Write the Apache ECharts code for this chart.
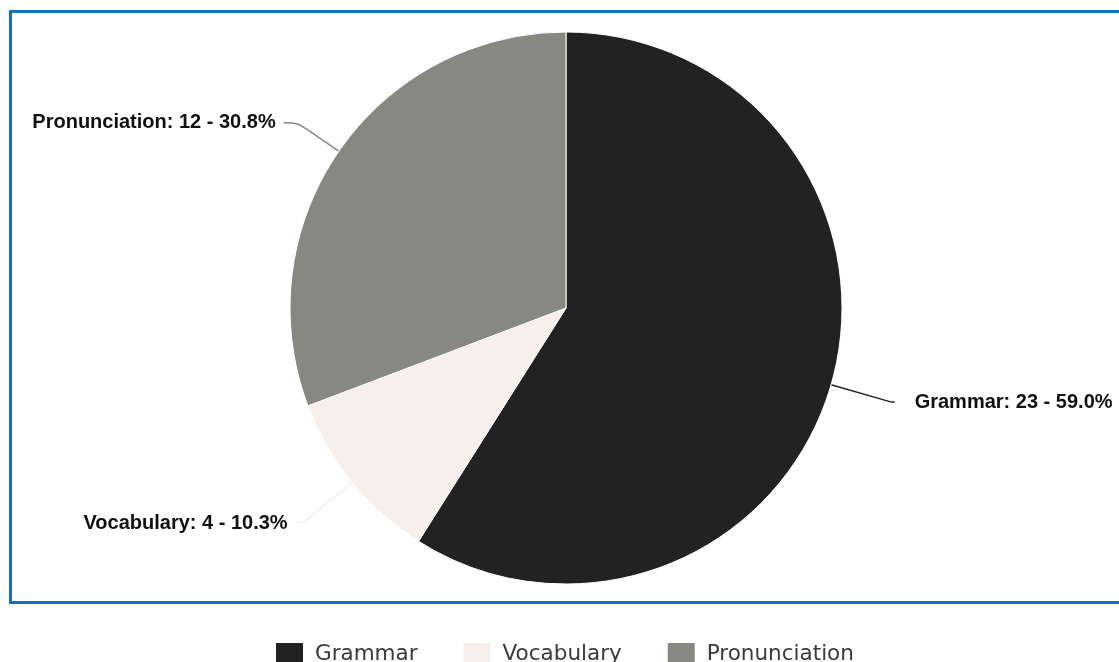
<!DOCTYPE html>
<html>
<head>
<meta charset="utf-8">
<script src="https://cdn.jsdelivr.net/npm/echarts@6/dist/echarts.min.js"></script>
<style>
  html, body { margin: 0; padding: 0; background: #ffffff; }
  #chart { width: 1119px; height: 662px; }
</style>
</head>
<body>
<div id="chart"></div>
<script>
// Skill areas and their counts
const categories = ['Grammar', 'Vocabulary', 'Pronunciation'];
const counts = [23, 4, 12];
const sliceColors = ['#222222', '#f6efec', '#878882'];
// Label line lengths per slice: [radial part, horizontal part]
const lineLengths = [[62, 4], [64, 7], [50, 14]];
const labelGaps = [20, 8, 8];

const total = counts.reduce((a, b) => a + b, 0);

const chart = echarts.init(document.getElementById('chart'), null, { renderer: 'canvas' });

const pieData = categories.map((name, i) => ({
  name: name,
  value: counts[i],
  itemStyle: { color: sliceColors[i] },
  label: { distanceToLabelLine: labelGaps[i] },
  labelLine: { length: lineLengths[i][0], length2: lineLengths[i][1] }
}));

chart.setOption({
  animation: false,
  backgroundColor: '#ffffff',
  graphic: [{
    type: 'rect',
    silent: true,
    z: -1,
    shape: { x: 10.5, y: 11.5, width: 1120, height: 591 },
    style: { fill: 'none', stroke: '#1270c2', lineWidth: 3 }
  }],
  legend: {
    data: categories,
    left: 274,
    top: 641,
    padding: 0,
    icon: 'rect',
    itemWidth: 29,
    itemHeight: 24,
    itemGap: 44,
    textStyle: { fontFamily: 'DejaVu Sans', fontSize: 21.5, color: '#3a3a3a', padding: [0, 0, 0, 6] }
  },
  series: [{
    type: 'pie',
    center: [566, 308],
    radius: 276,
    startAngle: 90,
    clockwise: true,
    avoidLabelOverlap: false,
    itemStyle: { borderColor: '#ffffff', borderWidth: 1 },
    label: {
      show: true,
      formatter: p => p.name + ': ' + p.value + ' - ' + (p.value / total * 100).toFixed(1) + '%',
      fontFamily: 'Liberation Sans',
      fontWeight: 'bold',
      fontSize: 20,
      color: '#111111'
    },
    labelLine: {
      show: true,
      smooth: 0.3,
      lineStyle: { width: 1.5 }
    },
    emphasis: { disabled: true },
    data: pieData
  }]
});
</script>
</body>
</html>
